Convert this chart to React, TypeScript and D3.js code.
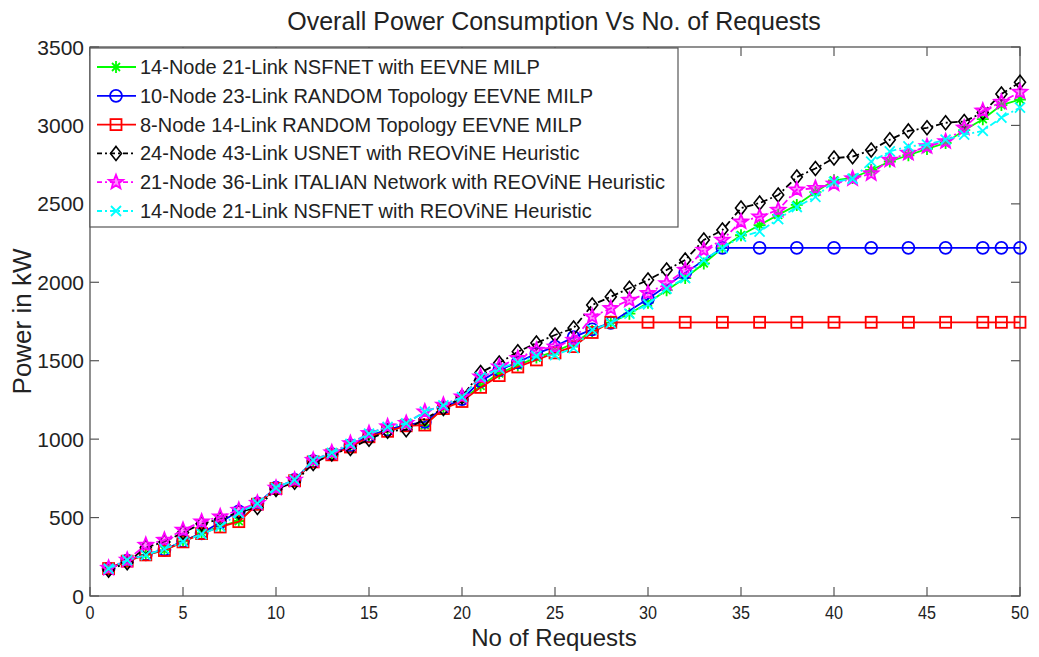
import React from 'react'
import * as d3 from 'd3'

// requests on the x axis
const reqAll = [1, 2, 3, 4, 5, 6, 7, 8, 9, 10, 11, 12, 13, 14, 15, 16, 17, 18, 19, 20, 21, 22, 23, 24, 25,
	26, 27, 28, 29, 30, 31, 32, 33, 34, 35, 36, 37, 38, 39, 40, 41, 42, 43, 44, 45, 46, 47, 48, 49, 50]
const reqMilp = [1, 2, 3, 4, 5, 6, 7, 8, 9, 10, 11, 12, 13, 14, 15, 16, 17, 18, 19, 20, 21, 22, 23, 24, 25,
	26, 27, 28, 30, 32, 34, 36, 38, 40, 42, 44, 46, 48, 49, 50]

// power in kW
const nsfnetMilp = [175, 225, 262, 293, 348, 400, 445, 478, 585, 688, 738, 860, 905, 955, 1020, 1060, 1090, 1090, 1200, 1250,
	1340, 1420, 1470, 1520, 1560, 1610, 1690, 1742, 1800, 1870, 1950, 2027, 2120, 2218, 2300, 2365, 2430, 2493, 2575, 2650,
	2665, 2716, 2770, 2810, 2850, 2888, 2970, 3040, 3130, 3165]
const random10Milp = [175, 225, 265, 295, 350, 400, 470, 540, 590, 690, 740, 860, 905, 960, 1020, 1060, 1090, 1110, 1200, 1255,
	1370, 1440, 1490, 1545, 1590, 1650, 1700, 1742, 1895, 2060, 2220, 2220, 2220, 2220, 2220, 2220, 2220, 2220, 2220, 2220]
const random8Milp = [175, 222, 262, 290, 345, 398, 440, 474, 585, 685, 735, 855, 900, 950, 1015, 1050, 1085, 1090, 1195, 1240,
	1330, 1405, 1460, 1505, 1550, 1590, 1680, 1745, 1745, 1745, 1745, 1745, 1745, 1745, 1745, 1745, 1745, 1745, 1745, 1745]
const usnetHeur = [165, 212, 310, 345, 405, 460, 490, 535, 565, 680, 725, 845, 905, 940, 1000, 1050, 1060, 1130, 1195, 1270,
	1425, 1485, 1557, 1613, 1664, 1708, 1855, 1908, 1962, 2015, 2078, 2142, 2270, 2333, 2473, 2505, 2556, 2671, 2725, 2792,
	2801, 2843, 2909, 2965, 2985, 3017, 3025, 3082, 3200, 3275]
const italianHeur = [178, 230, 325, 357, 421, 474, 506, 548, 593, 689, 740, 867, 915, 973, 1037, 1080, 1102, 1175, 1218, 1271,
	1398, 1462, 1515, 1568, 1589, 1632, 1781, 1834, 1887, 1930, 1993, 2078, 2206, 2270, 2386, 2418, 2461, 2590, 2600, 2628,
	2661, 2693, 2780, 2824, 2866, 2898, 2985, 3093, 3149, 3213]
const nsfnetHeur = [175, 228, 261, 300, 346, 395, 442, 529, 590, 690, 740, 865, 912, 970, 1035, 1078, 1100, 1175, 1215, 1268,
	1395, 1450, 1490, 1530, 1536, 1580, 1696, 1740, 1800, 1860, 1960, 2027, 2142, 2218, 2291, 2323, 2403, 2480, 2545, 2640,
	2660, 2769, 2834, 2866, 2877, 2909, 2941, 2965, 3050, 3114]

const xTicks = [0, 5, 10, 15, 20, 25, 30, 35, 40, 45, 50]
const yTicks = [0, 500, 1000, 1500, 2000, 2500, 3000, 3500]

type Series = { name: string, xs: number[], ys: number[], color: string, dash: string, marker: string }
const series: Series[] = [
	{ name: '14-Node 21-Link NSFNET with EEVNE MILP', xs: reqAll, ys: nsfnetMilp, color: '#00ff00', dash: '', marker: 'star' },
	{ name: '10-Node 23-Link RANDOM Topology EEVNE MILP', xs: reqMilp, ys: random10Milp, color: '#0000ff', dash: '', marker: 'circle' },
	{ name: '8-Node 14-Link RANDOM Topology EEVNE MILP', xs: reqMilp, ys: random8Milp, color: '#ff0000', dash: '', marker: 'square' },
	{ name: '24-Node 43-Link USNET with REOViNE Heuristic', xs: reqAll, ys: usnetHeur, color: '#000000', dash: '7,3,2,3', marker: 'diamond' },
	{ name: '21-Node 36-Link ITALIAN Network with REOViNE Heuristic', xs: reqAll, ys: italianHeur, color: '#ff00ff', dash: '7,3,2,3', marker: 'pentagram' },
	{ name: '14-Node 21-Link NSFNET with REOViNE Heuristic', xs: reqAll, ys: nsfnetHeur, color: '#00ffff', dash: '7,3,2,3', marker: 'x' },
]

const W = 1039
const H = 657
const left = 90, right = 1020, top = 47, bottom = 596
const font = 'Arial, "Liberation Sans", sans-serif'

const Marker = ({ kind, x, y, color }) => {
	const s = 6
	switch (kind) {
		case 'star':
			return <path d={`M${x - s},${y}H${x + s}M${x},${y - s}V${y + s}M${x - 4},${y - 4}L${x + 4},${y + 4}M${x - 4},${y + 4}L${x + 4},${y - 4}`} stroke={color} strokeWidth={1.8} />
		case 'circle':
			return <circle cx={x} cy={y} r={6} fill="none" stroke={color} strokeWidth={1.8} />
		case 'square':
			return <rect x={x - 5.5} y={y - 5.5} width={11} height={11} fill="none" stroke={color} strokeWidth={1.8} />
		case 'diamond':
			return <path d={`M${x},${y - 7}L${x + 5.5},${y}L${x},${y + 7}L${x - 5.5},${y}Z`} fill="none" stroke={color} strokeWidth={1.6} />
		case 'pentagram': {
			const pts = d3.range(10).map(i => {
				const r = i % 2 === 0 ? 7.5 : 3.2
				const a = -Math.PI / 2 + i * Math.PI / 5
				return [x + r * Math.cos(a), y + r * Math.sin(a)]
			})
			return <path d={'M' + pts.map(p => p.join(',')).join('L') + 'Z'} fill={color} fillOpacity={0.45} stroke={color} strokeWidth={1.8} />
		}
		case 'x':
			return <path d={`M${x - 5},${y - 5}L${x + 5},${y + 5}M${x - 5},${y + 5}L${x + 5},${y - 5}`} stroke={color} strokeWidth={1.8} />
	}
	return null
}

export default function App() {
	const x = d3.scaleLinear().domain([0, 50]).range([left, right])
	const y = d3.scaleLinear().domain([0, 3500]).range([bottom, top])
	const line = d3.line<[number, number]>().x(d => x(d[0])).y(d => y(d[1]))

	const legX = 90, legY = 48, legW = 588, legH = 179, rowH = 28.8

	return (
		<svg width={W} height={H} style={{ position: 'absolute', left: 0, top: 0, background: '#fff' }} fontFamily={font}>
			<rect width={W} height={H} fill="#fff" />
			<text x={554} y={30} textAnchor="middle" fontSize={25} fill="#222">Overall Power Consumption Vs No. of Requests</text>

			{/* axes box and ticks */}
			<rect x={left} y={top} width={right - left} height={bottom - top} fill="none" stroke="#555" strokeWidth={1.3} />
			{xTicks.map(t => (
				<g key={'x' + t}>
					<line x1={x(t)} x2={x(t)} y1={bottom} y2={bottom - 9} stroke="#555" strokeWidth={1.2} />
					<line x1={x(t)} x2={x(t)} y1={top} y2={top + 9} stroke="#555" strokeWidth={1.2} />
					<text x={x(t)} y={bottom + 23} textAnchor="middle" fontSize={19} fill="#222" transform={`translate(${x(t)},0) scale(0.85,1) translate(${-x(t)},0)`}>{t}</text>
				</g>
			))}
			{yTicks.map(t => (
				<g key={'y' + t}>
					<line x1={left} x2={left + 9} y1={y(t)} y2={y(t)} stroke="#555" strokeWidth={1.2} />
					<line x1={right} x2={right - 9} y1={y(t)} y2={y(t)} stroke="#555" strokeWidth={1.2} />
					<text x={left - 6} y={y(t) + 7.5} textAnchor="end" fontSize={21} fill="#222">{t}</text>
				</g>
			))}
			<text x={554} y={646} textAnchor="middle" fontSize={24} fill="#222">No of Requests</text>
			<text transform={`translate(31,${(top + bottom) / 2}) rotate(-90)`} textAnchor="middle" fontSize={26} fill="#222">Power in kW</text>

			{/* series */}
			{series.map(s => {
				const pts = s.xs.map((v, i) => [v, s.ys[i]] as [number, number])
				return (
					<g key={s.name}>
						<path d={line(pts)} fill="none" stroke={s.color} strokeWidth={1.8} strokeDasharray={s.dash || undefined} />
						{pts.map((p, i) => <Marker key={i} kind={s.marker} x={x(p[0])} y={y(p[1])} color={s.color} />)}
					</g>
				)
			})}

			{/* legend */}
			<rect x={legX} y={legY} width={legW} height={legH} fill="#fff" stroke="#555" strokeWidth={1.2} />
			{series.map((s, i) => {
				const cy = legY + 19 + i * rowH
				return (
					<g key={'leg' + s.name}>
						<line x1={97} x2={136} y1={cy} y2={cy} stroke={s.color} strokeWidth={1.8} strokeDasharray={s.dash ? '5,3,2,3' : undefined} />
						<Marker kind={s.marker} x={116} y={cy} color={s.color} />
						<text x={140} y={cy + 7} fontSize={20} fill="#222">{s.name}</text>
					</g>
				)
			})}
		</svg>
	)
}
